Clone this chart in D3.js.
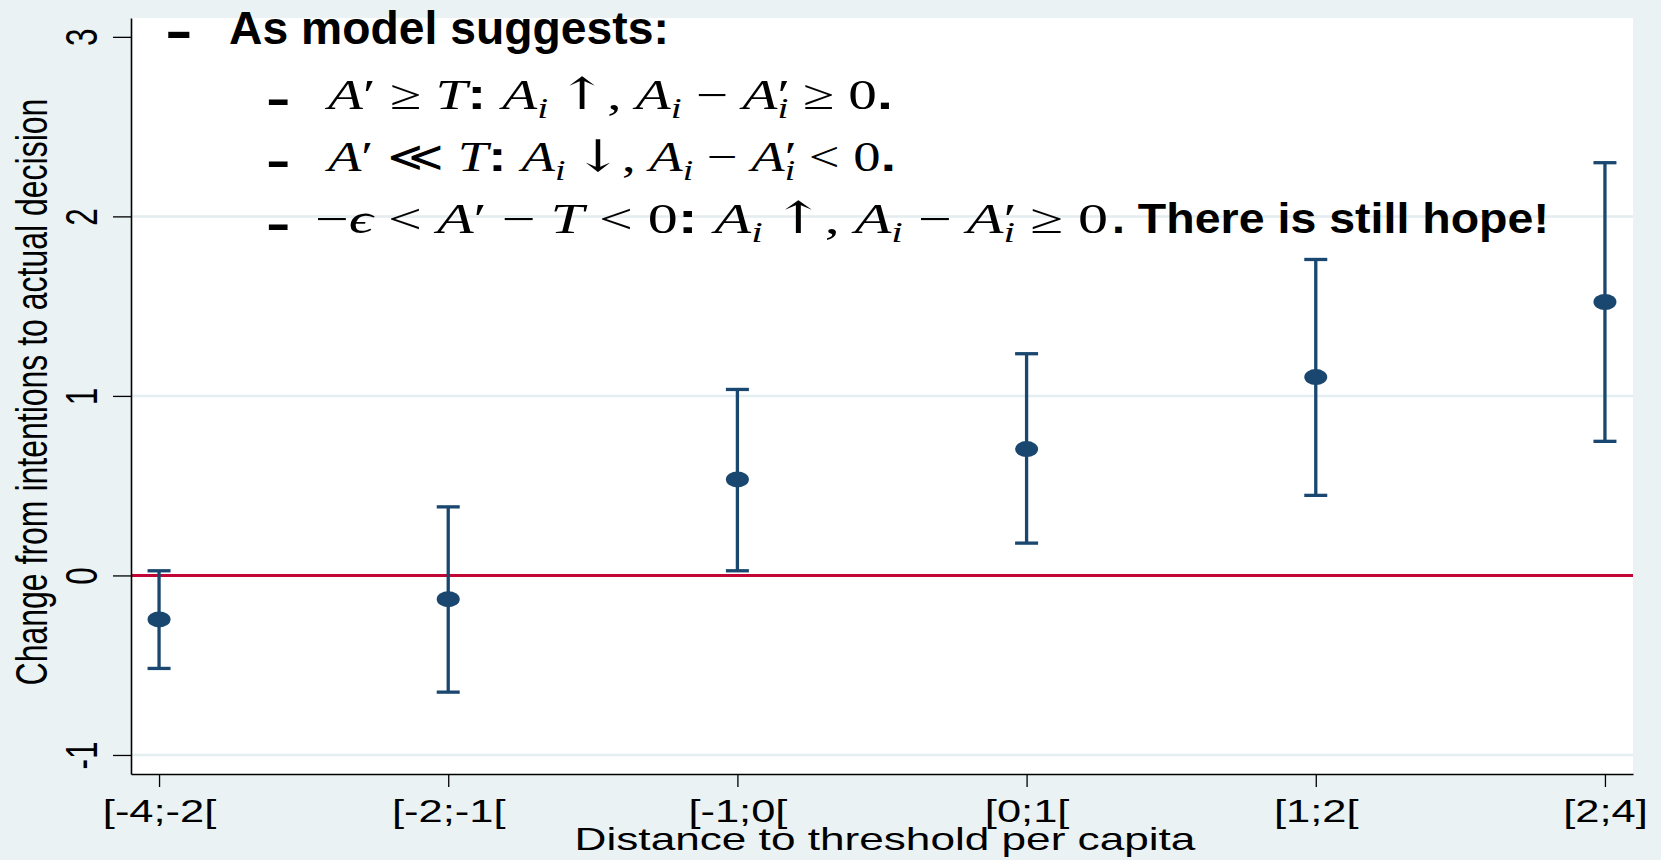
<!DOCTYPE html>
<html>
<head>
<meta charset="utf-8">
<title>Change from intentions to actual decision</title>
<script src="https://d3js.org/d3.v7.min.js"></script>
<style>
  body { margin: 0; background: #eaf2f3; }
  text { white-space: pre; }
</style>
</head>
<body>
<svg id="chart" width="1661" height="860"></svg>
<script>
// data
const categories = ["[-4;-2[", "[-2;-1[", "[-1;0[", "[0;1[", "[1;2[", "[2;4]"];
const estimates = [-0.245, -0.132, 0.535, 0.704, 1.105, 1.523];
const lowerCI   = [-0.518, -0.650, 0.026, 0.180, 0.446, 0.747];
const upperCI   = [0.026, 0.382, 1.036, 1.235, 1.760, 2.299];
const yTicks = [-1, 0, 1, 2, 3];
const gridValues = [-1, 1, 2];
const xTitle = "Distance to threshold per capita";
const yTitle = "Change from intentions to actual decision";

// slide text on top of the graph: [string, kind]
const headline = "As model suggests:";
const line2 = [["A","it"],["′ ≥ ","rm"],["T","it"],[": ","b"],["A","it"],["i","sub"],[" ","rm"],["↑","ar"],[",","rm"],[" ","rm"],
  ["A","it"],["i","sub"],[" − ","rm"],["A","it"],["′","rm"],["i","subp"],[" ≥ 0","rm"],[".","b"]];
const line3 = [["A","it"],["′ ≪ ","rm"],["T","it"],[": ","b"],["A","it"],["i","sub"],[" ","rm"],["↓","ar"],[",","rm"],[" ","rm"],
  ["A","it"],["i","sub"],[" − ","rm"],["A","it"],["′","rm"],["i","subp"],[" < 0","rm"],[".","b"]];
const line4 = [["−","rm"],["ϵ","it"],[" < ","rm"],["A","it"],["′ − ","rm"],["T","it"],[" < 0","rm"],[": ","b"],
  ["A","it"],["i","sub"],[" ","rm"],["↑","ar"],[",","rm"],[" ","rm"],["A","it"],["i","sub"],[" − ","rm"],["A","it"],["′","rm"],["i","subp"],
  [" ≥ 0","rm"]];
const line4tail = [[". There is still hope!","b"]];

const W = 1661, H = 860;
const plot = {left: 131, right: 1633, top: 18, bottom: 774};
const S = 1.38; // the stata graph is stretched sideways on the slide
const navy = "#1a476f", red = "#c10534", bg = "#eaf2f3";
const sans = "'Liberation Sans', Arial, sans-serif";
const serif = "'Liberation Serif', 'DejaVu Serif', serif";

const svg = d3.select("#chart");
svg.append("rect").attr("width", W).attr("height", H).attr("fill", bg);
svg.append("rect")
    .attr("x", plot.left).attr("y", plot.top)
    .attr("width", plot.right - plot.left).attr("height", plot.bottom - plot.top)
    .attr("fill", "#fff");

const x = d3.scalePoint().domain(categories).range([plot.left, plot.right]).padding(0.097);
const y = d3.scaleLinear().domain([-1.106, 3.105]).range([plot.bottom, plot.top]);

// gridlines
svg.append("g").selectAll("line").data(gridValues).join("line")
    .attr("x1", plot.left).attr("x2", plot.right)
    .attr("y1", d => y(d)).attr("y2", d => y(d))
    .attr("stroke", "#e4edef").attr("stroke-width", 2.5);

// zero line
svg.append("line")
    .attr("x1", plot.left).attr("x2", plot.right)
    .attr("y1", y(0)).attr("y2", y(0))
    .attr("stroke", red).attr("stroke-width", 3);

// axes
const yAxis = svg.append("g")
    .attr("transform", `translate(${plot.left},0)`)
    .call(d3.axisLeft(y).tickValues(yTicks).tickSize(18).tickSizeOuter(0).tickFormat(d => String(d)))
    .attr("font-family", sans).attr("font-size", 31.5);
yAxis.select(".domain").attr("stroke", "#000").attr("stroke-width", 1.6);
yAxis.selectAll(".tick line").attr("stroke", "#000").attr("stroke-width", 1.3);
yAxis.selectAll(".tick text")
    .attr("x", null).attr("dy", null)
    .attr("transform", `translate(-34,0) rotate(-90) scale(1,${S})`)
    .attr("text-anchor", "middle").attr("fill", "#000");

const xAxis = svg.append("g")
    .attr("transform", `translate(0,${plot.bottom})`)
    .call(d3.axisBottom(x).tickSize(13).tickSizeOuter(0))
    .attr("font-family", sans).attr("font-size", 31.5);
xAxis.select(".domain").attr("stroke", "#000").attr("stroke-width", 1.6);
xAxis.selectAll(".tick line").attr("stroke", "#000").attr("stroke-width", 1.3);
xAxis.selectAll(".tick text")
    .attr("y", null).attr("dy", null)
    .attr("transform", `translate(0,48) scale(${S},1)`)
    .attr("fill", "#000");

// axis titles
svg.append("text")
    .attr("transform", `translate(885,850) scale(${S},1)`)
    .attr("text-anchor", "middle")
    .attr("font-family", sans).attr("font-size", 32)
    .text(xTitle);
svg.append("text")
    .attr("transform", `translate(47,392) rotate(-90) scale(1,${S})`)
    .attr("text-anchor", "middle")
    .attr("font-family", sans).attr("font-size", 32)
    .text(yTitle);

// confidence intervals and point estimates
const rows = categories.map((c, i) => ({c, est: estimates[i], lo: lowerCI[i], hi: upperCI[i]}));
const capW = 11.5;
const bars = svg.append("g").attr("stroke", navy).attr("stroke-width", 3.3);
bars.selectAll(".ci").data(rows).join("line")
    .attr("x1", d => x(d.c)).attr("x2", d => x(d.c))
    .attr("y1", d => y(d.lo)).attr("y2", d => y(d.hi));
bars.selectAll(".capHi").data(rows).join("line")
    .attr("x1", d => x(d.c) - capW).attr("x2", d => x(d.c) + capW)
    .attr("y1", d => y(d.hi)).attr("y2", d => y(d.hi));
bars.selectAll(".capLo").data(rows).join("line")
    .attr("x1", d => x(d.c) - capW).attr("x2", d => x(d.c) + capW)
    .attr("y1", d => y(d.lo)).attr("y2", d => y(d.lo));
svg.append("g").selectAll("ellipse").data(rows).join("ellipse")
    .attr("cx", d => x(d.c)).attr("cy", d => y(d.est))
    .attr("rx", 11.5).attr("ry", 8)
    .attr("fill", navy);

// slide overlay text
function bullet(bx, by, size) {
  svg.append("text")
      .attr("transform", `translate(${bx},${by}) scale(1.6,1)`)
      .attr("font-family", sans).attr("font-weight", "bold").attr("font-size", size)
      .text("-");
}

function fitLine(t, x0, baseline, width) {
  const bb = t.node().getBBox();
  const k = width / bb.width;
  t.attr("transform", `translate(${x0 - bb.x * k},${baseline}) scale(${k},1)`);
}

function mathLine(segs, x0, baseline, width) {
  const t = svg.append("text").attr("x", 0).attr("y", 0).attr("fill", "#000");
  let shift = 0, prevW = 0;
  segs.forEach(([str, kind]) => {
    const ts = t.append("tspan").text(str);
    const target = (kind === "sub" || kind === "subp") ? 9 : 0;
    ts.attr("dy", target - shift);
    shift = target;
    if (kind === "b") {
      ts.attr("font-family", sans).attr("font-weight", "bold").attr("font-size", 42);
    } else if (kind === "it") {
      ts.attr("font-family", serif).attr("font-style", "italic").attr("font-size", 42);
    } else if (kind === "rm") {
      ts.attr("font-family", serif).attr("font-size", 42);
    } else if (kind === "ar") {
      ts.attr("font-family", "'DejaVu Serif', serif").attr("font-size", 44).attr("dx", -4);
    } else {
      ts.attr("font-family", serif).attr("font-style", "italic").attr("font-size", 29);
      if (kind === "subp") ts.attr("dx", -prevW);
    }
    prevW = ts.node().getComputedTextLength();
  });
  fitLine(t, x0, baseline, width);
}

bullet(165, 48, 52);
const head = svg.append("text")
    .attr("font-family", sans).attr("font-weight", "bold").attr("font-size", 46)
    .text(headline);
fitLine(head, 229, 44, 440);

bullet(266, 114, 46);
mathLine(line2, 324, 109, 569);
bullet(266, 176, 46);
mathLine(line3, 324, 170.5, 572);
bullet(266, 238.5, 46);
mathLine(line4, 315, 233, 793);
mathLine(line4tail, 1112, 233, 437);
</script>
</body>
</html>
